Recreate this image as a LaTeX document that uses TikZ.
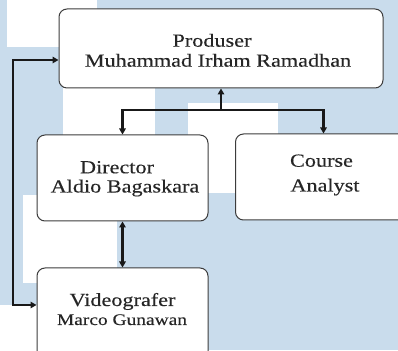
\documentclass[tikz,border=0pt]{standalone}
\usepackage{fontspec}
\setmainfont{Liberation Serif}[FakeStretch=1.2,FakeBold=0.2]
\usetikzlibrary{arrows.meta,calc}
\definecolor{bgblue}{RGB}{201,220,236}
\definecolor{boxline}{RGB}{60,60,60}
\tikzset{
  box/.style={draw=boxline, line width=1pt, fill=white, rounded corners=8pt, inner sep=0pt},
  lbl/.style={anchor=base, inner sep=0pt, font=\fontsize{18.5}{20}\selectfont, text=black!85},
  lblsmall/.style={anchor=base, inner sep=0pt, font=\fontsize{16.2}{18}\selectfont, text=black!85},
  conn/.style={line width=2.2pt, draw=black!90, arrows={-}},
  tip/.tip={Triangle[length=6pt,width=6.5pt]}
}
\begin{document}
\begin{tikzpicture}[x=1pt,y=1pt]
\useasboundingbox (0,0) rectangle (398,350);
\clip (0,0) rectangle (398,350);
% background pattern
\fill[bgblue] (0,0) rectangle (398,350);
\fill[white] (7,303) rectangle (97,350);
\fill[white] (63,157) rectangle (155,262);
\fill[white] (188,157) rectangle (278,247);
\fill[white] (23,67) rectangle (117,155);
\fill[white] (0,0) rectangle (37,45);
% boxes
\node[box, minimum width=324pt, minimum height=79pt] (prod) at (221,301.5) {};
\node[box, minimum width=176pt, minimum height=86pt] (course) at (323.5,173) {};
\node[box, minimum width=171pt, minimum height=86pt] (dir) at (122.5,172) {};
\node[box, minimum width=171pt, minimum height=92pt] (video) at (122.5,36) {};
% labels
\node[lbl] (prodA) at (212,303.3) {Produser};
\node[lbl] (prodB) at (218,283.3) {Muhammad Irham Ramadhan};
\node[lbl] (dirA) at (117,176.7) {Director};
\node[lbl] (dirB) at (125,157.5) {Aldio Bagaskara};
\node[lbl] (courseA) at (321.5,183.3) {Course};
\node[lbl] (courseB) at (325,158.5) {Analyst};
\node[lbl] (videoA) at (122.5,44) {Videografer};
\node[lblsmall] (videoB) at (122,25) {Marco Gunawan};
% connectors
\coordinate (lt) at (13,290);
\coordinate (lb) at (13,45);
\coordinate (j) at (221,240);
\draw[conn, tip-tip] (prod.west |- lt) -- (lt) -- (lb) -- (video.west |- lb);
\draw[conn, -tip] (j) -- (prod.south);
\draw[conn, tip-tip] (dir.north) -- (dir.north |- j) -- (course.north |- j) -- (course.north);
\draw[conn, tip-tip] (dir.south) -- (video.north);
\end{tikzpicture}
\end{document}
